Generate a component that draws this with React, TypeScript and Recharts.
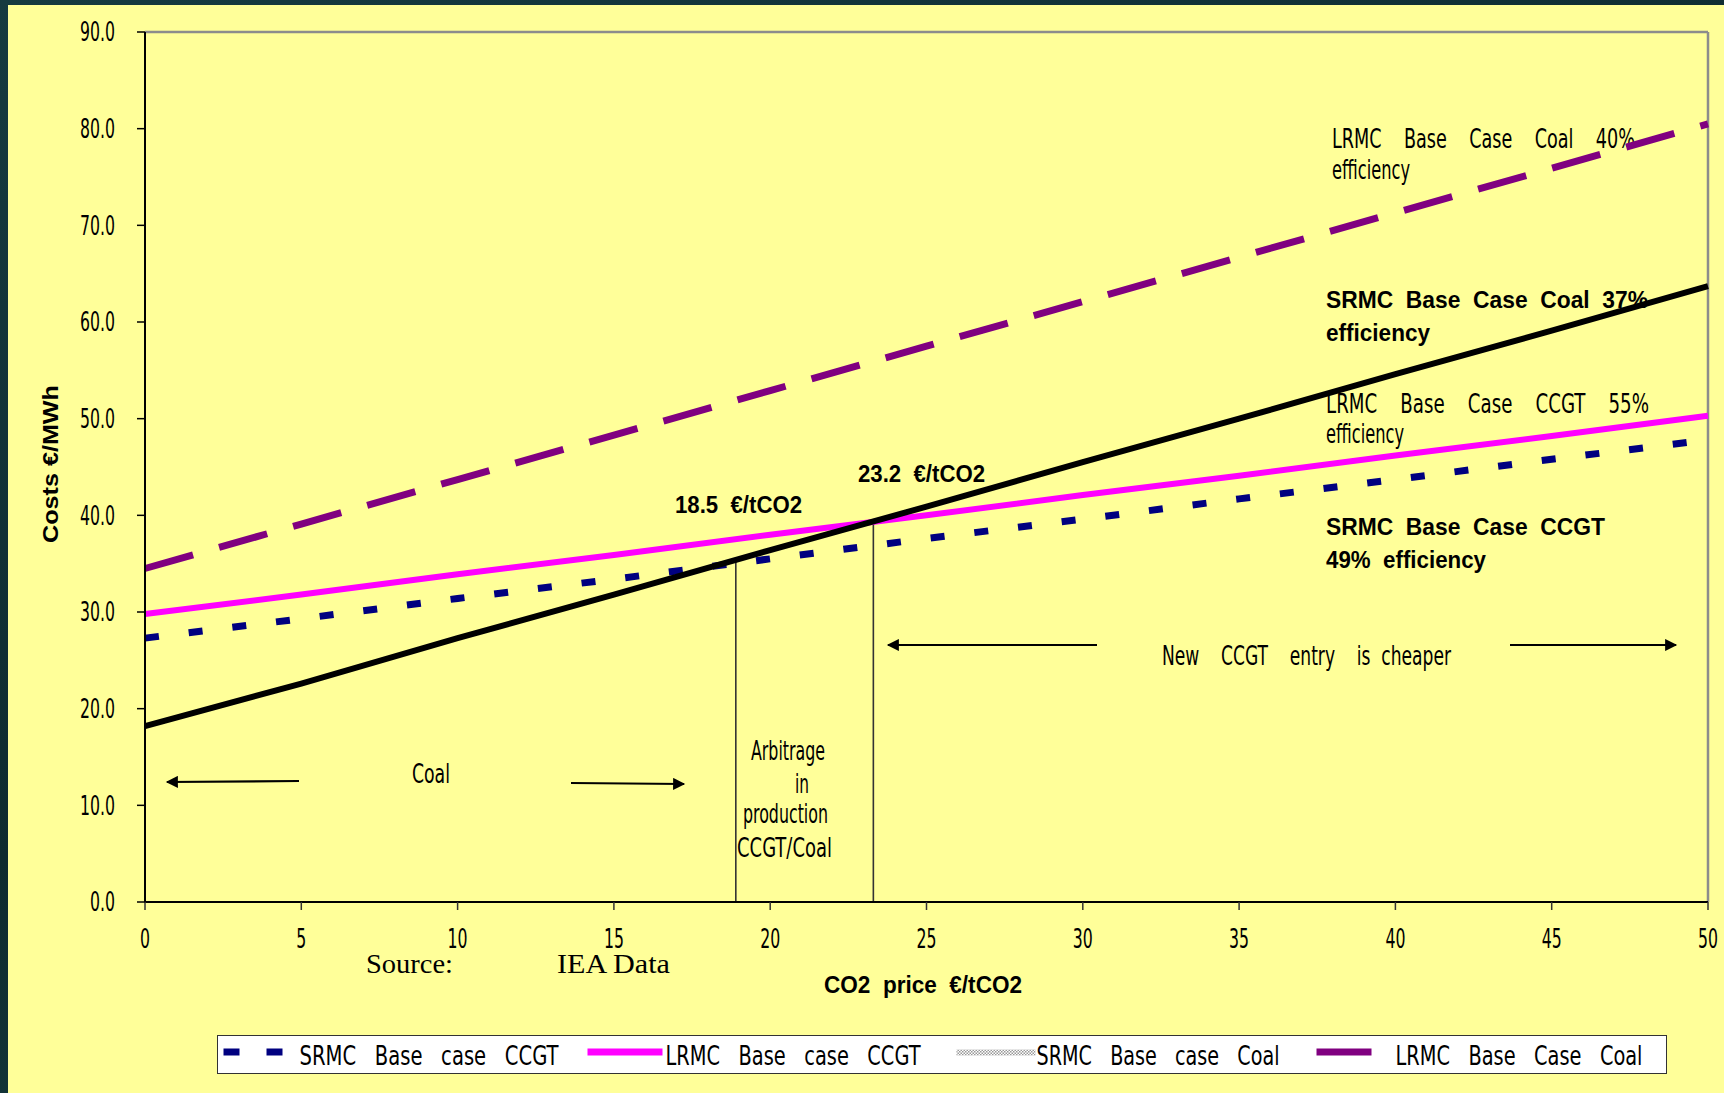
import { LineChart, Line, XAxis, YAxis, ReferenceLine } from 'recharts'

// CO2 price (€/tCO2) and cost (€/MWh)
const co2Price = [0, 5, 10, 15, 20, 25, 30, 35, 40, 45, 50]
const srmcCcgt = [27.3, 29.3, 31.4, 33.4, 35.5, 37.6, 39.6, 41.7, 43.7, 45.8, 47.8]
const lrmcCcgt = [29.8, 31.8, 33.9, 35.9, 38.0, 40.0, 42.1, 44.1, 46.2, 48.2, 50.3]
const srmcCoal = [18.2, 22.6, 27.3, 31.8, 36.4, 40.9, 45.5, 50.0, 54.6, 59.1, 63.7]
const lrmcCoal = [34.5, 39.1, 43.7, 48.3, 52.9, 57.5, 62.1, 66.7, 71.3, 75.9, 80.5]

const xTicks = [0, 5, 10, 15, 20, 25, 30, 35, 40, 45, 50]
const yTicks = [0, 10, 20, 30, 40, 50, 60, 70, 80, 90]

// switch points where coal stops being cheaper
const switchPrice = [18.9, 23.3]
const switchCost = [35.3, 39.3]

const legendNames = [
  'SRMC   Base   case   CCGT',
  'LRMC   Base   case   CCGT',
  'SRMC   Base   case   Coal',
  'LRMC   Base   Case   Coal',
]

const NARROW = "'Liberation Sans Narrow', 'Arial Narrow', 'DejaVu Sans Condensed', 'Liberation Sans', sans-serif"
const SANS = "'Liberation Sans', Arial, sans-serif"
const SERIF = "'Liberation Serif', 'Times New Roman', serif"

const data = co2Price.map((p, i) => ({
  price: p,
  srmcCcgt: srmcCcgt[i],
  lrmcCcgt: lrmcCcgt[i],
  srmcCoal: srmcCoal[i],
  lrmcCoal: lrmcCoal[i],
}))

function Note({ x, y, w, text, bold, size, font }: { x: number; y: number; w?: number; text: string; bold?: boolean; size?: number; font?: string }) {
  return (
    <text
      x={x}
      y={y}
      fontSize={size || (bold ? 24 : 26)}
      fontWeight={bold ? 700 : 400}
      fontFamily={font || (bold ? SANS : NARROW)}
      fill="#000"
      style={{ whiteSpace: 'pre' }}
      textLength={w}
      lengthAdjust={w ? 'spacingAndGlyphs' : undefined}
    >
      {text}
    </text>
  )
}

// narrow tick text: about 10px per digit, 5px per point
function tickWidth(s: string) {
  return s.replace('.', '').length * 10 + (s.includes('.') ? 5 : 0)
}

function NarrowTick(props: any) {
  const { x, y, payload, textAnchor, fmt, dy } = props
  const s = fmt ? fmt(payload.value) : String(payload.value)
  return (
    <text x={x} y={y} dy={dy} textAnchor={textAnchor} fontSize={26} fontFamily={NARROW} fill="#000" textLength={tickWidth(s)} lengthAdjust="spacingAndGlyphs">
      {s}
    </text>
  )
}

function Arrow({ x1, y1, x2, y2 }: { x1: number; y1: number; x2: number; y2: number }) {
  return <line x1={x1} y1={y1} x2={x2} y2={y2} stroke="#000" strokeWidth={2.2} markerEnd="url(#arrowHead)" />
}

function Legend() {
  return (
    <div
      style={{
        position: 'absolute', left: 217, top: 1035, width: 1450, height: 39,
        background: '#fff', border: '1.5px solid #333', boxSizing: 'border-box',
      }}
    >
      <svg width={1446} height={36} style={{ position: 'absolute', left: 0, top: 0, overflow: 'visible' }}>
        <defs>
          <pattern id="checker" width="3" height="3" patternUnits="userSpaceOnUse">
            <rect width="3" height="3" fill="#fff" />
            <rect width="1.5" height="1.5" fill="#999" />
            <rect x="1.5" y="1.5" width="1.5" height="1.5" fill="#999" />
          </pattern>
        </defs>
        <rect x={5.5} y={12.5} width={16} height={7} fill="#000080" />
        <rect x={48.5} y={12.5} width={16} height={7} fill="#000080" />
        <Note x={81.5} y={28.5} w={259} text={legendNames[0]} />
        <rect x={369.5} y={12.5} width={75} height={7} fill="#ff00ff" />
        <Note x={447.5} y={28.5} w={255} text={legendNames[1]} />
        <rect x={738.5} y={13.5} width={79} height={6} fill="url(#checker)" />
        <Note x={818.5} y={28.5} w={243} text={legendNames[2]} />
        <rect x={1098.5} y={12.5} width={55} height={7} fill="#800080" />
        <Note x={1177.5} y={28.5} w={247} text={legendNames[3]} />
      </svg>
    </div>
  )
}

export default function App() {
  return (
    <div
      style={{
        position: 'absolute', left: 0, top: 0, width: 1724, height: 1093, overflow: 'hidden',
        background: 'linear-gradient(160deg, #163a40 0%, #0e2a2f 50%, #1d4a4c 100%)',
      }}
    >
      <div style={{ position: 'absolute', left: 8, top: 5, width: 1716, height: 1088, background: '#ffff99' }}>
        <LineChart width={1716} height={1088} data={data} margin={{ top: 27, right: 16, left: 57, bottom: 131 }}>
          <defs>
            <marker id="arrowHead" viewBox="0 0 10 10" refX="9" refY="5" markerWidth="7" markerHeight="5.5" markerUnits="strokeWidth" orient="auto">
              <path d="M0,0 L10,5 L0,10 z" fill="#000" />
            </marker>
          </defs>
          <XAxis
            dataKey="price"
            type="number"
            domain={[0, 50]}
            ticks={xTicks}
            interval={0}
            height={60}
            tickSize={8}
            tickMargin={19}
            axisLine={{ stroke: '#000', strokeWidth: 2 }}
            tickLine={{ stroke: '#333', strokeWidth: 1.5 }}
            tick={<NarrowTick dy="0.72em" />}
          />
          <YAxis
            type="number"
            domain={[0, 90]}
            ticks={yTicks}
            interval={0}
            width={80}
            tickSize={8}
            tickMargin={22}
            axisLine={{ stroke: '#000', strokeWidth: 2 }}
            tickLine={{ stroke: '#000', strokeWidth: 1.5 }}
            tick={<NarrowTick dy="0.36em" fmt={(v: number) => v.toFixed(1)} />}
          />
          <ReferenceLine y={90} stroke="#8c8c8c" strokeWidth={2.5} />
          <ReferenceLine x={50} stroke="#8c8c8c" strokeWidth={2.5} />
          <ReferenceLine segment={[{ x: switchPrice[0], y: 0 }, { x: switchPrice[0], y: switchCost[0] }]} stroke="#333" strokeWidth={1.6} />
          <ReferenceLine segment={[{ x: switchPrice[1], y: 0 }, { x: switchPrice[1], y: switchCost[1] }]} stroke="#333" strokeWidth={1.6} />

          <Line dataKey="srmcCcgt" name="SRMC Base case CCGT" stroke="#000080" strokeWidth={7} strokeDasharray="14 30" dot={false} activeDot={false} isAnimationActive={false} />
          <Line dataKey="lrmcCcgt" name="LRMC Base case CCGT" stroke="#ff00ff" strokeWidth={6} dot={false} activeDot={false} isAnimationActive={false} />
          <Line dataKey="lrmcCoal" name="LRMC Base Case Coal" stroke="#800080" strokeWidth={7} strokeDasharray="50 27" dot={false} activeDot={false} isAnimationActive={false} />
          <Line dataKey="srmcCoal" name="SRMC Base case Coal" stroke="#000" strokeWidth={6} dot={false} activeDot={false} isAnimationActive={false} />

          {/* series labels */}
          <Note x={1324} y={143} w={303} text="LRMC    Base    Case    Coal    40%" />
          <Note x={1324} y={174} w={78} text="efficiency" />
          <Note x={1318} y={303} w={322} bold text="SRMC  Base  Case  Coal  37%" />
          <Note x={1318} y={336} w={104} bold text="efficiency" />
          <Note x={1318} y={408} w={323} text="LRMC    Base    Case    CCGT    55%" />
          <Note x={1318} y={438} w={78} text="efficiency" />
          <Note x={1318} y={530} w={279} bold text="SRMC  Base  Case  CCGT" />
          <Note x={1318} y={563} w={160} bold text="49%  efficiency" />

          {/* switch prices */}
          <Note x={667} y={508} w={127} bold text="18.5  €/tCO2" />
          <Note x={850} y={477} w={127} bold text="23.2  €/tCO2" />

          {/* zones */}
          <Note x={743} y={755} w={74} text="Arbitrage" />
          <Note x={787} y={788} w={14} text="in" />
          <Note x={735} y={818} w={85} text="production" />
          <Note x={729} y={852} w={95} text="CCGT/Coal" />
          <Note x={404} y={778} w={38} text="Coal" />
          <Arrow x1={291} y1={776} x2={159} y2={777} />
          <Arrow x1={563} y1={778} x2={676} y2={779} />
          <Note x={1154} y={660} w={289} text="New    CCGT    entry    is  cheaper" />
          <Arrow x1={1089} y1={640} x2={880} y2={640} />
          <Arrow x1={1502} y1={640} x2={1668} y2={640} />

          {/* source and axis titles */}
          <Note x={358} y={968} size={27} w={87} font={SERIF} text="Source:" />
          <Note x={549} y={968} size={27} w={113} font={SERIF} text="IEA Data" />
          <Note x={816} y={988} w={198} bold text="CO2  price  €/tCO2" />
          <g transform="translate(50, 459) rotate(-90)">
            <text x={0} y={0} textAnchor="middle" fontSize={22} fontWeight={700} fontFamily={SANS} fill="#000" textLength={158} lengthAdjust="spacingAndGlyphs">
              Costs €/MWh
            </text>
          </g>
        </LineChart>
      </div>
      <Legend />
    </div>
  )
}
